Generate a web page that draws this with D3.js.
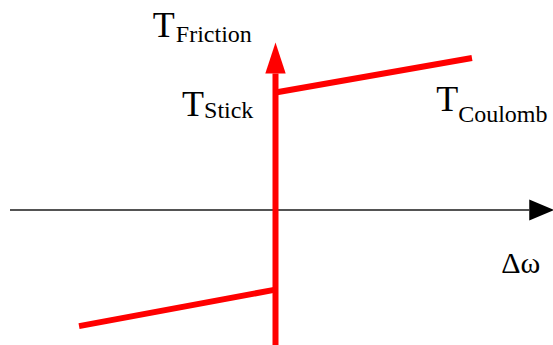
<!DOCTYPE html>
<html>
<head>
<meta charset="utf-8">
<script src="https://cdn.jsdelivr.net/npm/d3@7"></script>
<style>
  html, body { margin: 0; padding: 0; background: #fff; }
  svg { display: block; }
  text, tspan { font-family: "Liberation Serif", "Times New Roman", Times, serif; fill: #000; }
</style>
</head>
<body>
<svg id="chart" width="553" height="345"></svg>
<script>
// Data (normalised units: slip speed Δω vs friction torque)
const frictionW = [-0.74, 0, 0, 0.74];
const frictionT = [-0.86, -0.59, 0.87, 1.126];
const axisXExtent = [-1, 1.05];   // Δω axis: start, arrow tip
const axisYExtent = [-1, 1.24];   // torque axis: bottom, arrow tip
const labels = [
  { main: "T", sub: "Friction", w: -0.462, t: 1.285, subDx: 1, subDy: 5 },
  { main: "T", sub: "Stick",    w: -0.352, t: 0.70,  subDx: 0, subDy: 2 },
  { main: "T", sub: "Coulomb",  w: 0.605,  t: 0.73,  subDx: 0, subDy: 11 },
  { main: "Δω", sub: "",        w: 0.850,  t: -0.465, subDx: 0, subDy: 0 }
];

const svg = d3.select("#chart");
const x = d3.scaleLinear().domain([-1, 1]).range([10, 541]);
const y = d3.scaleLinear().domain([-1, 1]).range([345, 75]);

// Horizontal axis (Δω)
const arrowLenX = 25, arrowHalfX = 10.5;
const x0 = x(axisXExtent[0]), xTip = x(axisXExtent[1]);
svg.append("line")
  .attr("x1", x0).attr("x2", xTip - arrowLenX)
  .attr("y1", y(0)).attr("y2", y(0))
  .attr("stroke", "#1a1a1a").attr("stroke-width", 1.4);
svg.append("path")
  .attr("d", `M${xTip},${y(0)} L${xTip - arrowLenX},${y(0) - arrowHalfX} L${xTip - arrowLenX},${y(0) + arrowHalfX} Z`)
  .attr("fill", "#000");

// Vertical axis (T friction) in red with arrow
const arrowLenY = 31, arrowHalfY = 10.2;
const yTip = y(axisYExtent[1]);
svg.append("line")
  .attr("x1", x(0)).attr("x2", x(0))
  .attr("y1", y(axisYExtent[0])).attr("y2", yTip + arrowLenY)
  .attr("stroke", "#ff0000").attr("stroke-width", 6);
svg.append("path")
  .attr("d", `M${x(0)},${yTip} L${x(0) - arrowHalfY},${yTip + arrowLenY} L${x(0) + arrowHalfY},${yTip + arrowLenY} Z`)
  .attr("fill", "#ff0000");

// Friction characteristic
const pts = frictionW.map((w, i) => [w, frictionT[i]]);
const line = d3.line().x(d => x(d[0])).y(d => y(d[1]));
svg.append("path")
  .attr("d", line(pts.slice(0, 2)))
  .attr("fill", "none").attr("stroke", "#ff0000").attr("stroke-width", 6);
svg.append("path")
  .attr("d", line(pts.slice(2, 4)))
  .attr("fill", "none").attr("stroke", "#ff0000").attr("stroke-width", 6);

// Labels
labels.forEach(l => {
  const t = svg.append("text")
    .attr("font-family", "Liberation Serif, Times New Roman, serif")
    .attr("x", x(l.w)).attr("y", y(l.t))
    .attr("font-size", l.sub ? 36 : 30);
  t.append("tspan").text(l.main);
  if (l.sub) {
    t.append("tspan").attr("font-size", 24)
      .attr("dx", l.subDx).attr("dy", l.subDy).text(l.sub);
  }
});
</script>
</body>
</html>
